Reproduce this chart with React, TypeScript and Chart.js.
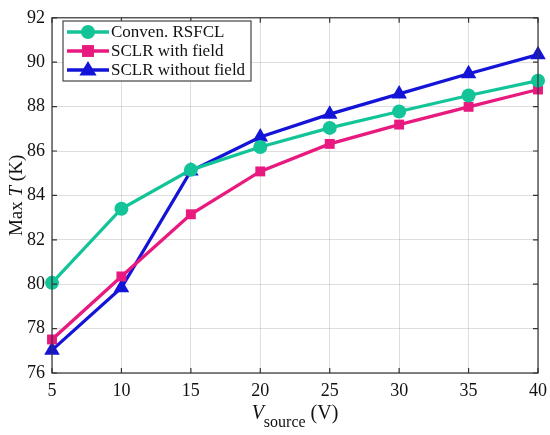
import { useEffect, useRef } from 'react'
import { Chart, registerables } from 'chart.js'
import type { Plugin } from 'chart.js'

Chart.register(...registerables)

const voltages = [5, 10, 15, 20, 25, 30, 35, 40]
const convenRsfcl = [80.06, 83.4, 85.15, 86.18, 87.04, 87.78, 88.5, 89.17]
const sclrWithField = [77.51, 80.35, 83.15, 85.08, 86.32, 87.19, 87.99, 88.77]
const sclrWithoutField = [77.03, 79.84, 85.1, 86.63, 87.66, 88.57, 89.48, 90.34]
const yTicks = [76, 78, 80, 82, 84, 86, 88, 90, 92]

const FONT = '"Liberation Serif", "Times New Roman", serif'

const seriesStyles = [
  { label: 'Conven. RSFCL', color: '#12C497', marker: 'circle', radius: 7 },
  { label: 'SCLR with field', color: '#E8197F', marker: 'rect', radius: 7 },
  { label: 'SCLR without field', color: '#1414D8', marker: 'triangle', radius: 9 },
]

function drawMarker(ctx: CanvasRenderingContext2D, marker: string, x: number, y: number, r: number, color: string) {
  ctx.save()
  ctx.fillStyle = color
  ctx.beginPath()
  if (marker === 'circle') {
    ctx.arc(x, y, r, 0, Math.PI * 2)
  } else if (marker === 'rect') {
    ctx.rect(x - r * 0.85, y - r * 0.85, r * 1.7, r * 1.7)
  } else {
    ctx.moveTo(x, y - r)
    ctx.lineTo(x + r * 0.95, y + r * 0.6)
    ctx.lineTo(x - r * 0.95, y + r * 0.6)
    ctx.closePath()
  }
  ctx.fill()
  ctx.restore()
}

const frame: Plugin<'line'> = {
  id: 'frame',
  afterDraw(chart) {
    const { ctx, chartArea } = chart
    const { left, right, top, bottom } = chartArea
    const xScale = chart.scales.x
    const yScale = chart.scales.y

    ctx.save()
    ctx.strokeStyle = '#333333'
    ctx.lineWidth = 1.2
    ctx.strokeRect(left, top, right - left, bottom - top)

    // inward ticks on all four sides
    ctx.beginPath()
    voltages.forEach((v) => {
      const px = xScale.getPixelForValue(v)
      ctx.moveTo(px, bottom)
      ctx.lineTo(px, bottom - 5)
      ctx.moveTo(px, top)
      ctx.lineTo(px, top + 5)
    })
    yTicks.forEach((t) => {
      const py = yScale.getPixelForValue(t)
      ctx.moveTo(left, py)
      ctx.lineTo(left + 5, py)
      ctx.moveTo(right, py)
      ctx.lineTo(right - 5, py)
    })
    ctx.stroke()

    // legend box
    const bx = 63
    const by = 21
    const bw = 188
    const bh = 60
    ctx.fillStyle = '#ffffff'
    ctx.fillRect(bx, by, bw, bh)
    ctx.strokeStyle = '#444444'
    ctx.lineWidth = 1.2
    ctx.strokeRect(bx, by, bw, bh)
    ctx.font = `17px ${FONT}`
    ctx.textBaseline = 'middle'
    ctx.textAlign = 'left'
    seriesStyles.forEach((s, i) => {
      const rowY = by + 11 + i * 19
      ctx.strokeStyle = s.color
      ctx.lineWidth = 3.3
      ctx.beginPath()
      ctx.moveTo(bx + 4, rowY)
      ctx.lineTo(bx + 46, rowY)
      ctx.stroke()
      drawMarker(ctx, s.marker, bx + 25, rowY, s.radius, s.color)
      ctx.fillStyle = '#111111'
      ctx.fillText(s.label, bx + 48, rowY + 1)
    })

    // axis titles
    ctx.fillStyle = '#111111'
    ctx.textBaseline = 'alphabetic'
    const xParts = [
      { text: 'V', font: `italic 20px ${FONT}`, dy: 0 },
      { text: 'source', font: `16px ${FONT}`, dy: 8 },
      { text: ' (V)', font: `20px ${FONT}`, dy: 0 },
    ]
    let total = 0
    xParts.forEach((p) => {
      ctx.font = p.font
      total += ctx.measureText(p.text).width
    })
    let cx = (left + right) / 2 - total / 2
    xParts.forEach((p) => {
      ctx.font = p.font
      ctx.fillText(p.text, cx, 419 + p.dy)
      cx += ctx.measureText(p.text).width
    })

    ctx.translate(22, (top + bottom) / 2)
    ctx.rotate(-Math.PI / 2)
    const yParts = [
      { text: 'Max ', font: `19px ${FONT}` },
      { text: 'T', font: `italic 19px ${FONT}` },
      { text: ' (K)', font: `19px ${FONT}` },
    ]
    total = 0
    yParts.forEach((p) => {
      ctx.font = p.font
      total += ctx.measureText(p.text).width
    })
    cx = -total / 2
    yParts.forEach((p) => {
      ctx.font = p.font
      ctx.fillText(p.text, cx, 0)
      cx += ctx.measureText(p.text).width
    })
    ctx.restore()
  },
}

function App() {
  const canvasRef = useRef<HTMLCanvasElement | null>(null)

  useEffect(() => {
    if (!canvasRef.current) {
      return undefined
    }

    const dataSets = [convenRsfcl, sclrWithField, sclrWithoutField]

    const chart = new Chart(canvasRef.current, {
      type: 'line',
      data: {
        datasets: seriesStyles.map((s, i) => ({
          label: s.label,
          data: voltages.map((v, j) => ({ x: v, y: dataSets[i][j] })),
          borderColor: s.color,
          backgroundColor: s.color,
          pointBackgroundColor: s.color,
          pointBorderColor: s.color,
          pointStyle: s.marker as 'circle' | 'rect' | 'triangle',
          pointRadius: s.radius,
          pointBorderWidth: 0,
          borderWidth: 3.3,
          tension: 0,
          fill: false,
          clip: false,
        })),
      },
      options: {
        animation: false,
        responsive: true,
        maintainAspectRatio: false,
        layout: {
          padding: { left: 0, top: 11, right: 12, bottom: 0 },
        },
        plugins: {
          legend: { display: false },
          tooltip: { enabled: false },
        },
        scales: {
          x: {
            type: 'linear',
            min: 5,
            max: 40,
            afterBuildTicks: (scale) => {
              scale.ticks = voltages.map((v) => ({ value: v }))
            },
            afterFit: (scale) => {
              scale.height = 62
              scale.paddingRight = 0
              scale.paddingLeft = 0
            },
            grid: {
              color: 'rgba(0, 0, 0, 0.13)',
              drawTicks: false,
            },
            border: { display: false },
            ticks: {
              padding: 7,
              color: '#111111',
              font: { family: FONT, size: 18 },
            },
          },
          y: {
            type: 'linear',
            min: 76,
            max: 92,
            afterBuildTicks: (scale) => {
              scale.ticks = yTicks.map((v) => ({ value: v }))
            },
            afterFit: (scale) => {
              scale.width = 52
            },
            grid: {
              color: 'rgba(0, 0, 0, 0.13)',
              drawTicks: false,
            },
            border: { display: false },
            ticks: {
              padding: 7,
              color: '#111111',
              font: { family: FONT, size: 18 },
            },
          },
        },
      },
      plugins: [frame],
    })

    return () => {
      chart.destroy()
    }
  }, [])

  return (
    <div
      style={{
        position: 'absolute',
        left: 0,
        top: 0,
        width: 550,
        height: 435,
        overflow: 'hidden',
        background: '#ffffff',
      }}
    >
      <canvas ref={canvasRef} />
    </div>
  )
}

export default App
